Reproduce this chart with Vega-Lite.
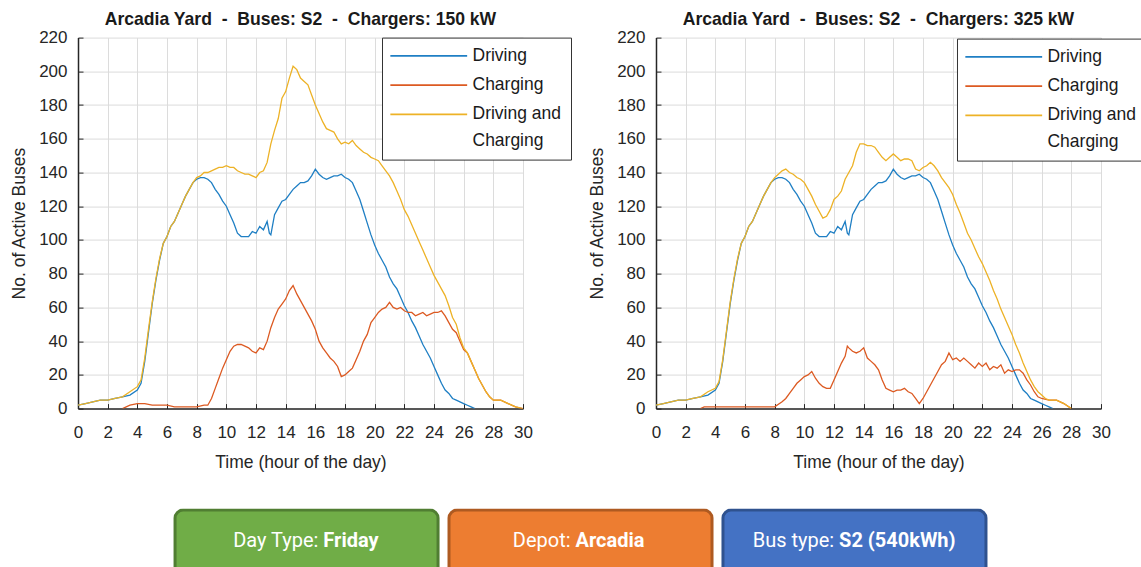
{
"$schema": "https://vega.github.io/schema/vega-lite/v6.json",
"padding": {"left": 10, "top": 10.6, "right": 0, "bottom": 0},
"background": "white",
"config": {
  "font": "Liberation Sans",
  "view": {"stroke": null},
  "style": {"guide-label": {"lineHeight": 26.5}},
  "title": {"font": "Liberation Sans", "fontSize": 17.6, "fontWeight": "bold", "color": "#1a1a1a", "offset": -0.5, "frame": "group", "anchor": "middle"},
  "axis": {"labelFont": "Liberation Sans", "labelFontSize": 17, "labelColor": "#262626", "titleFont": "Liberation Sans", "titleFontSize": 17.5, "titleFontWeight": "normal", "titleColor": "#262626", "gridColor": "#dcdcdc", "gridWidth": 1, "domainColor": "#262626", "domainWidth": 1.5, "tickColor": "#262626", "tickSize": -5, "tickWidth": 1, "labelFlush": false, "labelOverlap": false},
  "axisX": {"labelPadding": 21, "titlePadding": 13},
  "axisY": {"labelPadding": 16, "titlePadding": 10.6},
  "legend": {"labelFont": "Liberation Sans", "labelColor": "#1a1a1a", "labelFontSize": 17.5}
},
"datasets": {
  "bus": [
{"p":"all","s":"D","t":0,"n":2},{"p":"all","s":"D","t":0.5,"n":3},{"p":"all","s":"D","t":1,"n":4},{"p":"all","s":"D","t":1.5,"n":5},{"p":"all","s":"D","t":2,"n":5},{"p":"all","s":"D","t":2.5,"n":6},{"p":"all","s":"D","t":3,"n":7},{"p":"all","s":"D","t":3.5,"n":8},{"p":"all","s":"D","t":4,"n":11},{"p":"all","s":"D","t":4.25,"n":15},{"p":"all","s":"D","t":4.5,"n":28},{"p":"all","s":"D","t":4.75,"n":45},{"p":"all","s":"D","t":5,"n":62},{"p":"all","s":"D","t":5.25,"n":76},{"p":"all","s":"D","t":5.5,"n":88},{"p":"all","s":"D","t":5.75,"n":98},{"p":"all","s":"D","t":6,"n":102},{"p":"all","s":"D","t":6.25,"n":108},{"p":"all","s":"D","t":6.5,"n":111},{"p":"all","s":"D","t":6.75,"n":116},{"p":"all","s":"D","t":7,"n":121},{"p":"all","s":"D","t":7.25,"n":126},{"p":"all","s":"D","t":7.5,"n":130},{"p":"all","s":"D","t":7.75,"n":134},{"p":"all","s":"D","t":8,"n":136},{"p":"all","s":"D","t":8.25,"n":137},{"p":"all","s":"D","t":8.5,"n":137},{"p":"all","s":"D","t":8.75,"n":136},{"p":"all","s":"D","t":9,"n":134},{"p":"all","s":"D","t":9.25,"n":130},{"p":"all","s":"D","t":9.5,"n":127},{"p":"all","s":"D","t":9.75,"n":123},{"p":"all","s":"D","t":10,"n":120},{"p":"all","s":"D","t":10.25,"n":115},{"p":"all","s":"D","t":10.5,"n":110},{"p":"all","s":"D","t":10.75,"n":104},{"p":"all","s":"D","t":11,"n":102},{"p":"all","s":"D","t":11.25,"n":102},{"p":"all","s":"D","t":11.5,"n":102},{"p":"all","s":"D","t":11.75,"n":105},{"p":"all","s":"D","t":12,"n":104},{"p":"all","s":"D","t":12.25,"n":108},{"p":"all","s":"D","t":12.5,"n":106},{"p":"all","s":"D","t":12.75,"n":111},{"p":"all","s":"D","t":12.9,"n":104},{"p":"all","s":"D","t":13,"n":103},{"p":"all","s":"D","t":13.25,"n":115},{"p":"all","s":"D","t":13.5,"n":119},{"p":"all","s":"D","t":13.75,"n":123},{"p":"all","s":"D","t":14,"n":124},{"p":"all","s":"D","t":14.25,"n":127},{"p":"all","s":"D","t":14.5,"n":130},{"p":"all","s":"D","t":14.75,"n":132},{"p":"all","s":"D","t":15,"n":134},{"p":"all","s":"D","t":15.25,"n":134},{"p":"all","s":"D","t":15.5,"n":135},{"p":"all","s":"D","t":15.75,"n":138},{"p":"all","s":"D","t":16,"n":142},{"p":"all","s":"D","t":16.25,"n":139},{"p":"all","s":"D","t":16.5,"n":137},{"p":"all","s":"D","t":16.75,"n":136},{"p":"all","s":"D","t":17,"n":137},{"p":"all","s":"D","t":17.25,"n":138},{"p":"all","s":"D","t":17.5,"n":138},{"p":"all","s":"D","t":17.75,"n":139},{"p":"all","s":"D","t":18,"n":137},{"p":"all","s":"D","t":18.25,"n":136},{"p":"all","s":"D","t":18.5,"n":134},{"p":"all","s":"D","t":18.75,"n":129},{"p":"all","s":"D","t":19,"n":124},{"p":"all","s":"D","t":19.25,"n":117},{"p":"all","s":"D","t":19.5,"n":110},{"p":"all","s":"D","t":19.75,"n":103},{"p":"all","s":"D","t":20,"n":97},{"p":"all","s":"D","t":20.25,"n":92},{"p":"all","s":"D","t":20.5,"n":88},{"p":"all","s":"D","t":20.75,"n":84},{"p":"all","s":"D","t":21,"n":78},{"p":"all","s":"D","t":21.25,"n":74},{"p":"all","s":"D","t":21.5,"n":71},{"p":"all","s":"D","t":21.75,"n":66},{"p":"all","s":"D","t":22,"n":61},{"p":"all","s":"D","t":22.25,"n":57},{"p":"all","s":"D","t":22.5,"n":52},{"p":"all","s":"D","t":22.75,"n":48},{"p":"all","s":"D","t":23,"n":43},{"p":"all","s":"D","t":23.25,"n":38},{"p":"all","s":"D","t":23.5,"n":34},{"p":"all","s":"D","t":23.75,"n":30},{"p":"all","s":"D","t":24,"n":25},{"p":"all","s":"D","t":24.25,"n":20},{"p":"all","s":"D","t":24.5,"n":15},{"p":"all","s":"D","t":24.75,"n":11},{"p":"all","s":"D","t":25,"n":9},{"p":"all","s":"D","t":25.25,"n":6},{"p":"all","s":"D","t":25.5,"n":5},{"p":"all","s":"D","t":25.75,"n":4},{"p":"all","s":"D","t":26,"n":3},{"p":"all","s":"D","t":26.25,"n":2},{"p":"all","s":"D","t":26.5,"n":1},{"p":"all","s":"D","t":26.75,"n":0},
{"p":"150","s":"C","t":3,"n":0},{"p":"150","s":"C","t":3.25,"n":1},{"p":"150","s":"C","t":3.5,"n":2},{"p":"150","s":"C","t":4,"n":3},{"p":"150","s":"C","t":4.5,"n":3},{"p":"150","s":"C","t":5,"n":2},{"p":"150","s":"C","t":5.5,"n":2},{"p":"150","s":"C","t":6,"n":2},{"p":"150","s":"C","t":6.5,"n":1},{"p":"150","s":"C","t":7,"n":1},{"p":"150","s":"C","t":7.5,"n":1},{"p":"150","s":"C","t":8,"n":1},{"p":"150","s":"C","t":8.5,"n":2},{"p":"150","s":"C","t":8.75,"n":2},{"p":"150","s":"C","t":9,"n":6},{"p":"150","s":"C","t":9.25,"n":12},{"p":"150","s":"C","t":9.5,"n":18},{"p":"150","s":"C","t":9.75,"n":24},{"p":"150","s":"C","t":10,"n":29},{"p":"150","s":"C","t":10.25,"n":34},{"p":"150","s":"C","t":10.5,"n":37},{"p":"150","s":"C","t":10.75,"n":38},{"p":"150","s":"C","t":11,"n":38},{"p":"150","s":"C","t":11.25,"n":37},{"p":"150","s":"C","t":11.5,"n":36},{"p":"150","s":"C","t":11.75,"n":34},{"p":"150","s":"C","t":12,"n":33},{"p":"150","s":"C","t":12.25,"n":36},{"p":"150","s":"C","t":12.5,"n":35},{"p":"150","s":"C","t":12.75,"n":40},{"p":"150","s":"C","t":13,"n":48},{"p":"150","s":"C","t":13.25,"n":54},{"p":"150","s":"C","t":13.5,"n":59},{"p":"150","s":"C","t":13.75,"n":62},{"p":"150","s":"C","t":14,"n":65},{"p":"150","s":"C","t":14.25,"n":70},{"p":"150","s":"C","t":14.5,"n":73},{"p":"150","s":"C","t":14.75,"n":68},{"p":"150","s":"C","t":15,"n":64},{"p":"150","s":"C","t":15.25,"n":60},{"p":"150","s":"C","t":15.5,"n":56},{"p":"150","s":"C","t":15.75,"n":52},{"p":"150","s":"C","t":16,"n":47},{"p":"150","s":"C","t":16.25,"n":40},{"p":"150","s":"C","t":16.5,"n":36},{"p":"150","s":"C","t":16.75,"n":33},{"p":"150","s":"C","t":17,"n":30},{"p":"150","s":"C","t":17.25,"n":28},{"p":"150","s":"C","t":17.5,"n":25},{"p":"150","s":"C","t":17.75,"n":19},{"p":"150","s":"C","t":18,"n":20},{"p":"150","s":"C","t":18.25,"n":22},{"p":"150","s":"C","t":18.5,"n":24},{"p":"150","s":"C","t":18.75,"n":29},{"p":"150","s":"C","t":19,"n":34},{"p":"150","s":"C","t":19.25,"n":40},{"p":"150","s":"C","t":19.5,"n":44},{"p":"150","s":"C","t":19.75,"n":51},{"p":"150","s":"C","t":20,"n":54},{"p":"150","s":"C","t":20.25,"n":57},{"p":"150","s":"C","t":20.5,"n":59},{"p":"150","s":"C","t":20.75,"n":60},{"p":"150","s":"C","t":21,"n":63},{"p":"150","s":"C","t":21.25,"n":60},{"p":"150","s":"C","t":21.5,"n":59},{"p":"150","s":"C","t":21.75,"n":60},{"p":"150","s":"C","t":22,"n":58},{"p":"150","s":"C","t":22.25,"n":57},{"p":"150","s":"C","t":22.5,"n":57},{"p":"150","s":"C","t":22.75,"n":55},{"p":"150","s":"C","t":23,"n":56},{"p":"150","s":"C","t":23.25,"n":57},{"p":"150","s":"C","t":23.5,"n":55},{"p":"150","s":"C","t":23.75,"n":56},{"p":"150","s":"C","t":24,"n":57},{"p":"150","s":"C","t":24.25,"n":57},{"p":"150","s":"C","t":24.5,"n":58},{"p":"150","s":"C","t":24.75,"n":55},{"p":"150","s":"C","t":25,"n":51},{"p":"150","s":"C","t":25.25,"n":47},{"p":"150","s":"C","t":25.5,"n":45},{"p":"150","s":"C","t":25.75,"n":40},{"p":"150","s":"C","t":26,"n":35},{"p":"150","s":"C","t":26.25,"n":33},{"p":"150","s":"C","t":26.5,"n":28},{"p":"150","s":"C","t":26.75,"n":23},{"p":"150","s":"C","t":27,"n":18},{"p":"150","s":"C","t":27.25,"n":14},{"p":"150","s":"C","t":27.5,"n":10},{"p":"150","s":"C","t":27.75,"n":7},{"p":"150","s":"C","t":28,"n":5},{"p":"150","s":"C","t":28.5,"n":5},{"p":"150","s":"C","t":29,"n":3},{"p":"150","s":"C","t":29.5,"n":1},{"p":"150","s":"C","t":30,"n":0},
{"p":"150","s":"DC","t":0,"n":2},{"p":"150","s":"DC","t":0.5,"n":3},{"p":"150","s":"DC","t":1,"n":4},{"p":"150","s":"DC","t":1.5,"n":5},{"p":"150","s":"DC","t":2,"n":5},{"p":"150","s":"DC","t":2.5,"n":6},{"p":"150","s":"DC","t":3,"n":7},{"p":"150","s":"DC","t":3.5,"n":10},{"p":"150","s":"DC","t":4,"n":13},{"p":"150","s":"DC","t":4.25,"n":17},{"p":"150","s":"DC","t":4.5,"n":30},{"p":"150","s":"DC","t":4.75,"n":47},{"p":"150","s":"DC","t":5,"n":63},{"p":"150","s":"DC","t":5.25,"n":77},{"p":"150","s":"DC","t":5.5,"n":89},{"p":"150","s":"DC","t":5.75,"n":98},{"p":"150","s":"DC","t":6,"n":102},{"p":"150","s":"DC","t":6.25,"n":108},{"p":"150","s":"DC","t":6.5,"n":111},{"p":"150","s":"DC","t":6.75,"n":116},{"p":"150","s":"DC","t":7,"n":121},{"p":"150","s":"DC","t":7.25,"n":126},{"p":"150","s":"DC","t":7.5,"n":130},{"p":"150","s":"DC","t":7.75,"n":134},{"p":"150","s":"DC","t":8,"n":137},{"p":"150","s":"DC","t":8.25,"n":138},{"p":"150","s":"DC","t":8.5,"n":140},{"p":"150","s":"DC","t":8.75,"n":140},{"p":"150","s":"DC","t":9,"n":141},{"p":"150","s":"DC","t":9.25,"n":142},{"p":"150","s":"DC","t":9.5,"n":143},{"p":"150","s":"DC","t":9.75,"n":143},{"p":"150","s":"DC","t":10,"n":144},{"p":"150","s":"DC","t":10.25,"n":143},{"p":"150","s":"DC","t":10.5,"n":143},{"p":"150","s":"DC","t":10.75,"n":141},{"p":"150","s":"DC","t":11,"n":140},{"p":"150","s":"DC","t":11.25,"n":139},{"p":"150","s":"DC","t":11.5,"n":139},{"p":"150","s":"DC","t":11.75,"n":138},{"p":"150","s":"DC","t":12,"n":137},{"p":"150","s":"DC","t":12.25,"n":140},{"p":"150","s":"DC","t":12.5,"n":141},{"p":"150","s":"DC","t":12.75,"n":146},{"p":"150","s":"DC","t":13,"n":157},{"p":"150","s":"DC","t":13.25,"n":165},{"p":"150","s":"DC","t":13.5,"n":172},{"p":"150","s":"DC","t":13.75,"n":184},{"p":"150","s":"DC","t":14,"n":188},{"p":"150","s":"DC","t":14.25,"n":196},{"p":"150","s":"DC","t":14.5,"n":203},{"p":"150","s":"DC","t":14.75,"n":201},{"p":"150","s":"DC","t":15,"n":196},{"p":"150","s":"DC","t":15.25,"n":194},{"p":"150","s":"DC","t":15.5,"n":192},{"p":"150","s":"DC","t":15.75,"n":186},{"p":"150","s":"DC","t":16,"n":180},{"p":"150","s":"DC","t":16.25,"n":175},{"p":"150","s":"DC","t":16.5,"n":170},{"p":"150","s":"DC","t":16.75,"n":166},{"p":"150","s":"DC","t":17,"n":165},{"p":"150","s":"DC","t":17.25,"n":164},{"p":"150","s":"DC","t":17.5,"n":160},{"p":"150","s":"DC","t":17.75,"n":157},{"p":"150","s":"DC","t":18,"n":158},{"p":"150","s":"DC","t":18.25,"n":157},{"p":"150","s":"DC","t":18.5,"n":159},{"p":"150","s":"DC","t":18.75,"n":156},{"p":"150","s":"DC","t":19,"n":154},{"p":"150","s":"DC","t":19.25,"n":152},{"p":"150","s":"DC","t":19.5,"n":151},{"p":"150","s":"DC","t":19.75,"n":149},{"p":"150","s":"DC","t":20,"n":148},{"p":"150","s":"DC","t":20.25,"n":147},{"p":"150","s":"DC","t":20.5,"n":144},{"p":"150","s":"DC","t":20.75,"n":141},{"p":"150","s":"DC","t":21,"n":138},{"p":"150","s":"DC","t":21.25,"n":134},{"p":"150","s":"DC","t":21.5,"n":129},{"p":"150","s":"DC","t":21.75,"n":124},{"p":"150","s":"DC","t":22,"n":118},{"p":"150","s":"DC","t":22.25,"n":114},{"p":"150","s":"DC","t":22.5,"n":109},{"p":"150","s":"DC","t":22.75,"n":104},{"p":"150","s":"DC","t":23,"n":99},{"p":"150","s":"DC","t":23.25,"n":94},{"p":"150","s":"DC","t":23.5,"n":89},{"p":"150","s":"DC","t":23.75,"n":84},{"p":"150","s":"DC","t":24,"n":79},{"p":"150","s":"DC","t":24.25,"n":75},{"p":"150","s":"DC","t":24.5,"n":71},{"p":"150","s":"DC","t":24.75,"n":67},{"p":"150","s":"DC","t":25,"n":61},{"p":"150","s":"DC","t":25.25,"n":54},{"p":"150","s":"DC","t":25.5,"n":50},{"p":"150","s":"DC","t":25.75,"n":42},{"p":"150","s":"DC","t":26,"n":36},{"p":"150","s":"DC","t":26.25,"n":33},{"p":"150","s":"DC","t":26.5,"n":28},{"p":"150","s":"DC","t":26.75,"n":23},{"p":"150","s":"DC","t":27,"n":18},{"p":"150","s":"DC","t":27.25,"n":14},{"p":"150","s":"DC","t":27.5,"n":10},{"p":"150","s":"DC","t":27.75,"n":7},{"p":"150","s":"DC","t":28,"n":5},{"p":"150","s":"DC","t":28.5,"n":5},{"p":"150","s":"DC","t":29,"n":3},{"p":"150","s":"DC","t":29.5,"n":1},{"p":"150","s":"DC","t":30,"n":0},
{"p":"325","s":"C","t":3,"n":0},{"p":"325","s":"C","t":3.25,"n":1},{"p":"325","s":"C","t":3.5,"n":1},{"p":"325","s":"C","t":4,"n":1},{"p":"325","s":"C","t":5,"n":1},{"p":"325","s":"C","t":6,"n":1},{"p":"325","s":"C","t":7,"n":1},{"p":"325","s":"C","t":8,"n":1},{"p":"325","s":"C","t":8.5,"n":4},{"p":"325","s":"C","t":8.75,"n":6},{"p":"325","s":"C","t":9,"n":9},{"p":"325","s":"C","t":9.25,"n":12},{"p":"325","s":"C","t":9.5,"n":15},{"p":"325","s":"C","t":9.75,"n":17},{"p":"325","s":"C","t":10,"n":19},{"p":"325","s":"C","t":10.25,"n":20},{"p":"325","s":"C","t":10.5,"n":22},{"p":"325","s":"C","t":10.75,"n":18},{"p":"325","s":"C","t":11,"n":15},{"p":"325","s":"C","t":11.25,"n":13},{"p":"325","s":"C","t":11.5,"n":12},{"p":"325","s":"C","t":11.75,"n":12},{"p":"325","s":"C","t":12,"n":17},{"p":"325","s":"C","t":12.25,"n":22},{"p":"325","s":"C","t":12.5,"n":27},{"p":"325","s":"C","t":12.75,"n":31},{"p":"325","s":"C","t":12.9,"n":37},{"p":"325","s":"C","t":13,"n":36},{"p":"325","s":"C","t":13.25,"n":34},{"p":"325","s":"C","t":13.5,"n":33},{"p":"325","s":"C","t":13.75,"n":34},{"p":"325","s":"C","t":14,"n":36},{"p":"325","s":"C","t":14.25,"n":30},{"p":"325","s":"C","t":14.5,"n":28},{"p":"325","s":"C","t":14.75,"n":26},{"p":"325","s":"C","t":15,"n":23},{"p":"325","s":"C","t":15.25,"n":17},{"p":"325","s":"C","t":15.5,"n":12},{"p":"325","s":"C","t":15.75,"n":11},{"p":"325","s":"C","t":16,"n":10},{"p":"325","s":"C","t":16.25,"n":11},{"p":"325","s":"C","t":16.5,"n":11},{"p":"325","s":"C","t":16.75,"n":12},{"p":"325","s":"C","t":17,"n":10},{"p":"325","s":"C","t":17.25,"n":9},{"p":"325","s":"C","t":17.5,"n":6},{"p":"325","s":"C","t":17.75,"n":3},{"p":"325","s":"C","t":18,"n":6},{"p":"325","s":"C","t":18.25,"n":10},{"p":"325","s":"C","t":18.5,"n":14},{"p":"325","s":"C","t":18.75,"n":18},{"p":"325","s":"C","t":19,"n":22},{"p":"325","s":"C","t":19.25,"n":26},{"p":"325","s":"C","t":19.5,"n":28},{"p":"325","s":"C","t":19.75,"n":33},{"p":"325","s":"C","t":20,"n":29},{"p":"325","s":"C","t":20.25,"n":30},{"p":"325","s":"C","t":20.5,"n":28},{"p":"325","s":"C","t":20.75,"n":30},{"p":"325","s":"C","t":21,"n":28},{"p":"325","s":"C","t":21.25,"n":26},{"p":"325","s":"C","t":21.5,"n":24},{"p":"325","s":"C","t":21.75,"n":27},{"p":"325","s":"C","t":22,"n":25},{"p":"325","s":"C","t":22.25,"n":27},{"p":"325","s":"C","t":22.5,"n":23},{"p":"325","s":"C","t":22.75,"n":25},{"p":"325","s":"C","t":23,"n":24},{"p":"325","s":"C","t":23.25,"n":26},{"p":"325","s":"C","t":23.5,"n":21},{"p":"325","s":"C","t":23.75,"n":23},{"p":"325","s":"C","t":24,"n":22},{"p":"325","s":"C","t":24.25,"n":23},{"p":"325","s":"C","t":24.5,"n":23},{"p":"325","s":"C","t":24.75,"n":21},{"p":"325","s":"C","t":25,"n":17},{"p":"325","s":"C","t":25.25,"n":14},{"p":"325","s":"C","t":25.5,"n":10},{"p":"325","s":"C","t":25.75,"n":7},{"p":"325","s":"C","t":26,"n":6},{"p":"325","s":"C","t":26.5,"n":5},{"p":"325","s":"C","t":27,"n":5},{"p":"325","s":"C","t":27.5,"n":3},{"p":"325","s":"C","t":28,"n":0},
{"p":"325","s":"DC","t":0,"n":2},{"p":"325","s":"DC","t":0.5,"n":3},{"p":"325","s":"DC","t":1,"n":4},{"p":"325","s":"DC","t":1.5,"n":5},{"p":"325","s":"DC","t":2,"n":5},{"p":"325","s":"DC","t":2.5,"n":6},{"p":"325","s":"DC","t":3,"n":7},{"p":"325","s":"DC","t":3.5,"n":10},{"p":"325","s":"DC","t":4,"n":12},{"p":"325","s":"DC","t":4.25,"n":16},{"p":"325","s":"DC","t":4.5,"n":29},{"p":"325","s":"DC","t":4.75,"n":46},{"p":"325","s":"DC","t":5,"n":63},{"p":"325","s":"DC","t":5.25,"n":77},{"p":"325","s":"DC","t":5.5,"n":89},{"p":"325","s":"DC","t":5.75,"n":98},{"p":"325","s":"DC","t":6,"n":102},{"p":"325","s":"DC","t":6.25,"n":108},{"p":"325","s":"DC","t":6.5,"n":111},{"p":"325","s":"DC","t":6.75,"n":116},{"p":"325","s":"DC","t":7,"n":121},{"p":"325","s":"DC","t":7.25,"n":126},{"p":"325","s":"DC","t":7.5,"n":130},{"p":"325","s":"DC","t":7.75,"n":134},{"p":"325","s":"DC","t":8,"n":137},{"p":"325","s":"DC","t":8.25,"n":139},{"p":"325","s":"DC","t":8.5,"n":141},{"p":"325","s":"DC","t":8.75,"n":142},{"p":"325","s":"DC","t":9,"n":140},{"p":"325","s":"DC","t":9.25,"n":139},{"p":"325","s":"DC","t":9.5,"n":137},{"p":"325","s":"DC","t":9.75,"n":136},{"p":"325","s":"DC","t":10,"n":134},{"p":"325","s":"DC","t":10.25,"n":130},{"p":"325","s":"DC","t":10.5,"n":126},{"p":"325","s":"DC","t":10.75,"n":121},{"p":"325","s":"DC","t":11,"n":117},{"p":"325","s":"DC","t":11.25,"n":113},{"p":"325","s":"DC","t":11.5,"n":114},{"p":"325","s":"DC","t":11.75,"n":118},{"p":"325","s":"DC","t":12,"n":124},{"p":"325","s":"DC","t":12.25,"n":126},{"p":"325","s":"DC","t":12.5,"n":129},{"p":"325","s":"DC","t":12.75,"n":136},{"p":"325","s":"DC","t":13,"n":140},{"p":"325","s":"DC","t":13.25,"n":144},{"p":"325","s":"DC","t":13.5,"n":152},{"p":"325","s":"DC","t":13.75,"n":157},{"p":"325","s":"DC","t":14,"n":157},{"p":"325","s":"DC","t":14.25,"n":156},{"p":"325","s":"DC","t":14.5,"n":156},{"p":"325","s":"DC","t":14.75,"n":155},{"p":"325","s":"DC","t":15,"n":152},{"p":"325","s":"DC","t":15.25,"n":149},{"p":"325","s":"DC","t":15.5,"n":147},{"p":"325","s":"DC","t":15.75,"n":149},{"p":"325","s":"DC","t":16,"n":151},{"p":"325","s":"DC","t":16.25,"n":149},{"p":"325","s":"DC","t":16.5,"n":147},{"p":"325","s":"DC","t":16.75,"n":148},{"p":"325","s":"DC","t":17,"n":148},{"p":"325","s":"DC","t":17.25,"n":147},{"p":"325","s":"DC","t":17.5,"n":142},{"p":"325","s":"DC","t":17.75,"n":141},{"p":"325","s":"DC","t":18,"n":143},{"p":"325","s":"DC","t":18.25,"n":144},{"p":"325","s":"DC","t":18.5,"n":146},{"p":"325","s":"DC","t":18.75,"n":144},{"p":"325","s":"DC","t":19,"n":141},{"p":"325","s":"DC","t":19.25,"n":137},{"p":"325","s":"DC","t":19.5,"n":134},{"p":"325","s":"DC","t":19.75,"n":131},{"p":"325","s":"DC","t":20,"n":127},{"p":"325","s":"DC","t":20.25,"n":121},{"p":"325","s":"DC","t":20.5,"n":116},{"p":"325","s":"DC","t":20.75,"n":110},{"p":"325","s":"DC","t":21,"n":104},{"p":"325","s":"DC","t":21.25,"n":100},{"p":"325","s":"DC","t":21.5,"n":95},{"p":"325","s":"DC","t":21.75,"n":90},{"p":"325","s":"DC","t":22,"n":86},{"p":"325","s":"DC","t":22.25,"n":81},{"p":"325","s":"DC","t":22.5,"n":76},{"p":"325","s":"DC","t":22.75,"n":70},{"p":"325","s":"DC","t":23,"n":65},{"p":"325","s":"DC","t":23.25,"n":59},{"p":"325","s":"DC","t":23.5,"n":54},{"p":"325","s":"DC","t":23.75,"n":49},{"p":"325","s":"DC","t":24,"n":44},{"p":"325","s":"DC","t":24.25,"n":38},{"p":"325","s":"DC","t":24.5,"n":33},{"p":"325","s":"DC","t":24.75,"n":27},{"p":"325","s":"DC","t":25,"n":22},{"p":"325","s":"DC","t":25.25,"n":17},{"p":"325","s":"DC","t":25.5,"n":13},{"p":"325","s":"DC","t":25.75,"n":10},{"p":"325","s":"DC","t":26,"n":8},{"p":"325","s":"DC","t":26.25,"n":6},{"p":"325","s":"DC","t":26.5,"n":5},{"p":"325","s":"DC","t":27,"n":5},{"p":"325","s":"DC","t":27.5,"n":3},{"p":"325","s":"DC","t":28,"n":0}
  ],
  "buttons": [
    {"key": "Day Type", "label": "Day Type:", "value": "Friday"},
    {"key": "Depot", "label": "Depot:", "value": "Arcadia"},
    {"key": "Bus type", "label": "Bus type:", "value": "S2 (540kWh)"}
  ]
},
"vconcat": [
  {
    "hconcat": [
      {
        "width": 445, "height": 371,
        "title": {"text": "Arcadia Yard\u00a0 -\u00a0 Buses: S2\u00a0 -\u00a0 Chargers: 150 kW"},
        "data": {"name": "bus"},
        "transform": [{"filter": "datum.p == 'all' || datum.p == '150'"}],
        "mark": {"type": "line", "strokeWidth": 1.3, "clip": true},
        "encoding": {
          "x": {"field": "t", "type": "quantitative", "scale": {"domain": [0, 30], "nice": false}, "axis": {"values": [0,2,4,6,8,10,12,14,16,18,20,22,24,26,28,30], "title": "Time (hour of the day)"}},
          "y": {"field": "n", "type": "quantitative", "scale": {"domain": [0, 220], "nice": false}, "axis": {"values": [0,20,40,60,80,100,120,140,160,180,200,220], "title": "No. of Active Buses"}},
          "color": {"field": "s", "type": "nominal", "scale": {"domain": ["D", "C", "DC"], "range": ["#1f7fc4", "#dc5a22", "#edb226"]},
            "legend": {"orient": "none", "legendX": 304, "legendY": 0, "title": null, "symbolType": "M-6.4,0H6.4", "symbolSize": 144, "symbolStrokeWidth": 1.8, "symbolOffset": 28.5, "labelOffset": 35, "padding": 9.5, "rowPadding": 10.3, "labelLimit": 300, "fillColor": "white", "strokeColor": "#333333",
              "labelExpr": "datum.label == 'D' ? 'Driving' : datum.label == 'C' ? 'Charging' : ['Driving and', 'Charging']"}}
        }
      },
      {
        "width": 445, "height": 371,
        "title": {"text": "Arcadia Yard\u00a0 -\u00a0 Buses: S2\u00a0 -\u00a0 Chargers: 325 kW"},
        "data": {"name": "bus"},
        "transform": [{"filter": "datum.p == 'all' || datum.p == '325'"}],
        "mark": {"type": "line", "strokeWidth": 1.3, "clip": true},
        "encoding": {
          "x": {"field": "t", "type": "quantitative", "scale": {"domain": [0, 30], "nice": false}, "axis": {"values": [0,2,4,6,8,10,12,14,16,18,20,22,24,26,28,30], "title": "Time (hour of the day)"}},
          "y": {"field": "n", "type": "quantitative", "scale": {"domain": [0, 220], "nice": false}, "axis": {"values": [0,20,40,60,80,100,120,140,160,180,200,220], "title": "No. of Active Buses"}},
          "color": {"field": "s", "type": "nominal", "scale": {"domain": ["D", "C", "DC"], "range": ["#1f7fc4", "#dc5a22", "#edb226"]},
            "legend": {"orient": "none", "legendX": 301, "legendY": 1, "title": null, "symbolType": "M-6.4,0H6.4", "symbolSize": 144, "symbolStrokeWidth": 1.8, "symbolOffset": 28.5, "labelOffset": 35, "padding": 9.5, "rowPadding": 10.3, "labelLimit": 300, "fillColor": "white", "strokeColor": "#333333",
              "labelExpr": "datum.label == 'D' ? 'Driving' : datum.label == 'C' ? 'Charging' : ['Driving and', 'Charging']"}}
        }
      }
    ],
    "spacing": 133,
    "bounds": "flush",
    "resolve": {"scale": {"color": "independent"}, "legend": {"color": "independent"}}
  },
  {
    "width": 1063, "height": 58.5,
    "data": {"name": "buttons"},
    "encoding": {
      "x": {"field": "key", "type": "nominal", "sort": null, "scale": {"paddingInner": 0.04, "paddingOuter": 0.46, "align": 0.385}, "axis": null}
    },
    "layer": [
      {
        "mark": {"type": "bar", "cornerRadius": 8, "strokeWidth": 3, "clip": true},
        "encoding": {
          "y": {"datum": 0.974, "type": "quantitative", "scale": {"domain": [0, 1], "nice": false, "zero": false}, "axis": null},
          "y2": {"datum": -0.4},
          "fill": {"field": "key", "type": "nominal", "sort": null, "scale": {"domain": ["Day Type", "Depot", "Bus type"], "range": ["#70AD47", "#ED7D31", "#4472C4"]}, "legend": null},
          "stroke": {"field": "key", "type": "nominal", "sort": null, "scale": {"domain": ["Day Type", "Depot", "Bus type"], "range": ["#507E32", "#AE5A21", "#2F528F"]}, "legend": null}
        }
      },
      {
        "transform": [{"filter": "datum.key == 'Day Type'"}],
        "mark": {"type": "text", "align": "right", "baseline": "alphabetic", "dx": 11.8, "font": "Roboto", "fontSize": 20, "color": "white"},
        "encoding": {"text": {"field": "label"}, "y": {"datum": 0.35, "type": "quantitative"}}
      },
      {
        "transform": [{"filter": "datum.key == 'Day Type'"}],
        "mark": {"type": "text", "align": "left", "baseline": "alphabetic", "dx": 16.8, "font": "Roboto", "fontSize": 20, "fontWeight": "bold", "color": "white"},
        "encoding": {"text": {"field": "value"}, "y": {"datum": 0.35, "type": "quantitative"}}
      },
      {
        "transform": [{"filter": "datum.key == 'Depot'"}],
        "mark": {"type": "text", "align": "right", "baseline": "alphabetic", "dx": -10, "font": "Roboto", "fontSize": 20, "color": "white"},
        "encoding": {"text": {"field": "label"}, "y": {"datum": 0.35, "type": "quantitative"}}
      },
      {
        "transform": [{"filter": "datum.key == 'Depot'"}],
        "mark": {"type": "text", "align": "left", "baseline": "alphabetic", "dx": -5, "font": "Roboto", "fontSize": 20, "fontWeight": "bold", "color": "white"},
        "encoding": {"text": {"field": "value"}, "y": {"datum": 0.35, "type": "quantitative"}}
      },
      {
        "transform": [{"filter": "datum.key == 'Bus type'"}],
        "mark": {"type": "text", "align": "right", "baseline": "alphabetic", "dx": -20.4, "font": "Roboto", "fontSize": 20, "color": "white"},
        "encoding": {"text": {"field": "label"}, "y": {"datum": 0.35, "type": "quantitative"}}
      },
      {
        "transform": [{"filter": "datum.key == 'Bus type'"}],
        "mark": {"type": "text", "align": "left", "baseline": "alphabetic", "dx": -15.4, "font": "Roboto", "fontSize": 20, "fontWeight": "bold", "color": "white"},
        "encoding": {"text": {"field": "value"}, "y": {"datum": 0.35, "type": "quantitative"}}
      }
    ]
  }
],
"spacing": 37
}
